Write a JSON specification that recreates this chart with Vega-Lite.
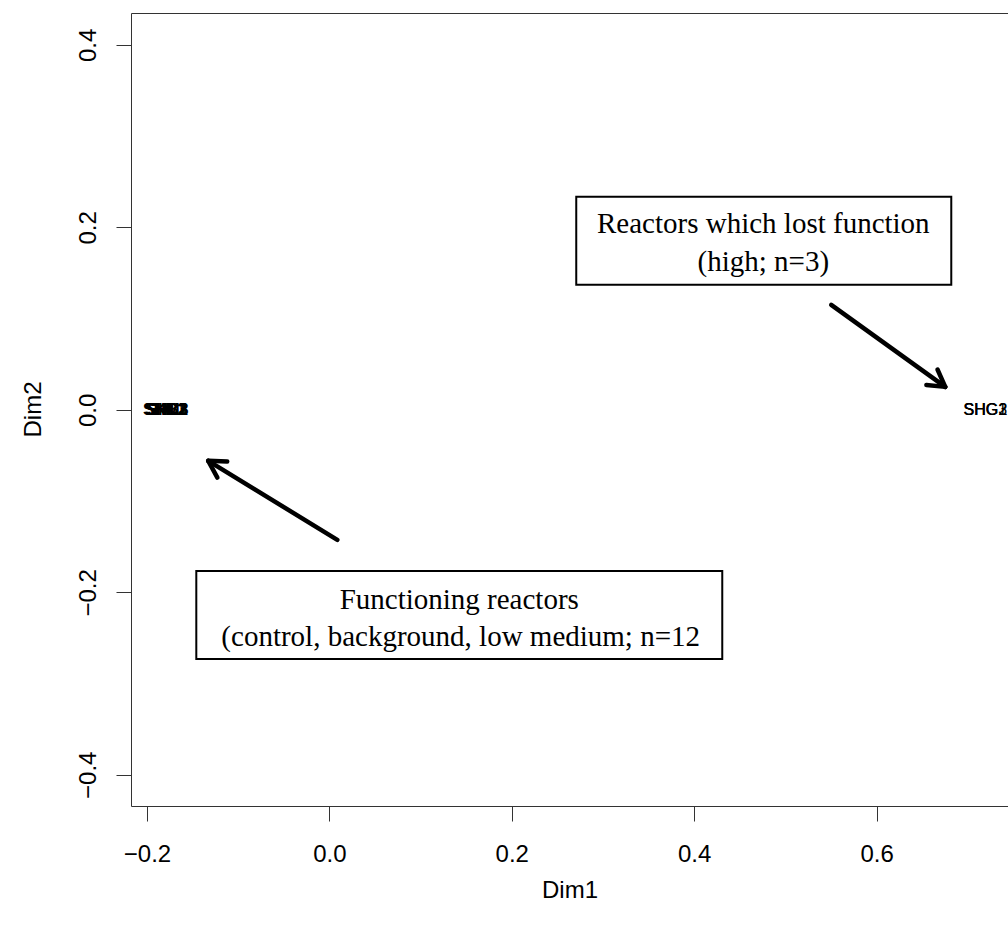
{
  "$schema": "https://vega.github.io/schema/vega-lite/v6.json",
  "width": 877,
  "height": 793,
  "autosize": "none",
  "padding": {"left": 131, "top": 13, "right": 0, "bottom": 123},
  "background": "white",
  "config": {"view": {"stroke": null}, "font": "Liberation Sans"},
  "datasets": {
    "samples": [
      {"sample": "SHC1", "Dim1": -0.1812, "Dim2": 0.0},
      {"sample": "SHC2", "Dim1": -0.1805, "Dim2": 0.0},
      {"sample": "SHC3", "Dim1": -0.1798, "Dim2": 0.0},
      {"sample": "SHB1", "Dim1": -0.1793, "Dim2": 0.0},
      {"sample": "SHB2", "Dim1": -0.1788, "Dim2": 0.0},
      {"sample": "SHB3", "Dim1": -0.1784, "Dim2": 0.0},
      {"sample": "SHL1", "Dim1": -0.1779, "Dim2": 0.0},
      {"sample": "SHL2", "Dim1": -0.1775, "Dim2": 0.0},
      {"sample": "SHL3", "Dim1": -0.1770, "Dim2": 0.0},
      {"sample": "SKM1", "Dim1": -0.1786, "Dim2": 0.0},
      {"sample": "SKM2", "Dim1": -0.1790, "Dim2": 0.0},
      {"sample": "SKM3", "Dim1": -0.1782, "Dim2": 0.0},
      {"sample": "SHG1", "Dim1": 0.7190, "Dim2": 0.0},
      {"sample": "SHG3", "Dim1": 0.7193, "Dim2": 0.0},
      {"sample": "SHG2", "Dim1": 0.7196, "Dim2": 0.0}
    ],
    "boxes": [
      {"box": "lost", "x1": 0.2707, "x2": 0.6819, "y1": 0.2336, "y2": 0.1371},
      {"box": "functioning", "x1": -0.1459, "x2": 0.4308, "y1": -0.1765, "y2": -0.2730}
    ],
    "notes": [
      {"label": "Reactors which lost function", "x": 0.4758, "y": 0.2039},
      {"label": "(high; n=3)", "x": 0.4758, "y": 0.1623},
      {"label": "Functioning reactors", "x": 0.1424, "y": -0.2083},
      {"label": "(control, background, low medium; n=12", "x": 0.1440, "y": -0.2489}
    ],
    "arrows": [
      {"part": "shaft1", "x": 0.5503, "y": 0.1151, "x2": 0.6753, "y2": 0.0252},
      {"part": "head1a", "x": 0.6753, "y": 0.0252, "x2": 0.6668, "y2": 0.0442},
      {"part": "head1b", "x": 0.6753, "y": 0.0252, "x2": 0.6546, "y2": 0.0273},
      {"part": "shaft2", "x": 0.0087, "y": -0.1425, "x2": -0.1328, "y2": -0.0559},
      {"part": "head2a", "x": -0.1328, "y": -0.0559, "x2": -0.1228, "y2": -0.0742},
      {"part": "head2b", "x": -0.1328, "y": -0.0559, "x2": -0.1120, "y2": -0.0565}
    ]
  },
  "layer": [
    {
      "data": {"name": "samples"},
      "mark": {"type": "text", "fontSize": 16, "font": "Liberation Sans", "color": "black", "align": "center", "baseline": "middle"},
      "encoding": {
        "x": {
          "field": "Dim1", "type": "quantitative",
          "scale": {"domain": [-0.2175, 0.7441], "nice": false, "zero": false},
          "axis": {
            "title": "Dim1", "orient": "bottom", "values": [-0.2, 0, 0.2, 0.4, 0.6], "format": ".1f",
            "grid": false, "domainColor": "#333", "domainWidth": 1, "tickColor": "#333", "tickWidth": 1, "tickSize": 15,
            "labelFont": "Liberation Sans", "labelFontSize": 24, "labelColor": "black", "labelBaseline": "alphabetic", "labelPadding": 40,
            "labelFlush": false, "labelOverlap": false,
            "titleFont": "Liberation Sans", "titleFontSize": 24, "titleFontWeight": "normal", "titleColor": "black",
            "titleBaseline": "alphabetic", "titleY": 91
          }
        },
        "y": {
          "field": "Dim2", "type": "quantitative",
          "scale": {"domain": [-0.4342, 0.4350], "nice": false, "zero": false},
          "axis": {
            "title": "Dim2", "orient": "left", "values": [-0.4, -0.2, 0, 0.2, 0.4], "format": ".1f",
            "grid": false, "domainColor": "#333", "domainWidth": 1, "tickColor": "#333", "tickWidth": 1, "tickSize": 15,
            "labelFont": "Liberation Sans", "labelFontSize": 24, "labelColor": "black", "labelAngle": -90,
            "labelAlign": "center", "labelBaseline": "alphabetic", "labelPadding": 21,
            "labelFlush": false, "labelOverlap": false,
            "titleFont": "Liberation Sans", "titleFontSize": 24, "titleFontWeight": "normal", "titleColor": "black",
            "titleAngle": -90, "titleBaseline": "alphabetic", "titleX": -91, "titleY": 396
          }
        },
        "text": {"field": "sample"}
      }
    },
    {
      "data": {"name": "boxes"},
      "mark": {"type": "rect", "fill": "white", "stroke": "black", "strokeWidth": 2},
      "encoding": {
        "x": {"field": "x1", "type": "quantitative", "axis": null},
        "x2": {"field": "x2"},
        "y": {"field": "y1", "type": "quantitative", "axis": null},
        "y2": {"field": "y2"}
      }
    },
    {
      "data": {"name": "notes"},
      "mark": {"type": "text", "font": "Liberation Serif", "fontSize": 29, "color": "black", "align": "center", "baseline": "middle"},
      "encoding": {
        "x": {"field": "x", "type": "quantitative", "axis": null},
        "y": {"field": "y", "type": "quantitative", "axis": null},
        "text": {"field": "label"}
      }
    },
    {
      "data": {"name": "arrows"},
      "mark": {"type": "rule", "color": "black", "strokeWidth": 4.5, "strokeCap": "round"},
      "encoding": {
        "x": {"field": "x", "type": "quantitative", "axis": null},
        "y": {"field": "y", "type": "quantitative", "axis": null},
        "x2": {"field": "x2"},
        "y2": {"field": "y2"}
      }
    },
    {
      "data": {"name": "samples"},
      "mark": {"type": "point", "opacity": 0},
      "encoding": {
        "x": {
          "field": "Dim1", "type": "quantitative",
          "axis": {"orient": "top", "title": null, "labels": false, "ticks": false, "grid": false, "domainColor": "#333", "domainWidth": 1}
        },
        "y": {"field": "Dim2", "type": "quantitative", "axis": null}
      }
    }
  ],
  "resolve": {"axis": {"x": "independent", "y": "independent"}}
}
